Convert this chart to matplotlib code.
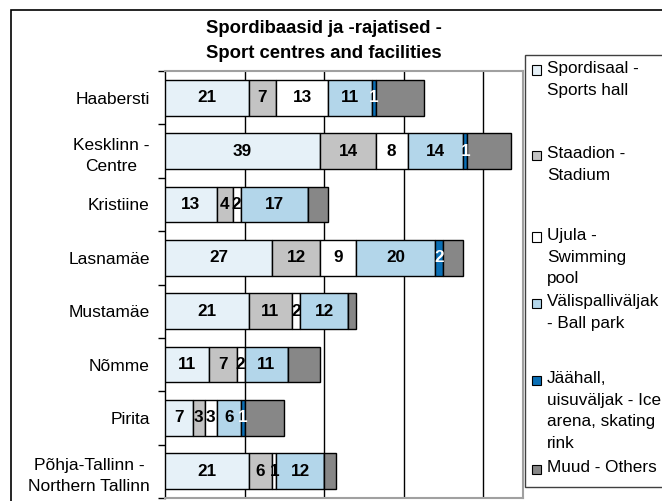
import matplotlib
matplotlib.use('Agg')
import matplotlib.pyplot as plt
from matplotlib.patches import Rectangle
import numpy as np

plt.rcParams['font.family'] = ['Liberation Sans', 'DejaVu Sans']

# data
districts = ['Haabersti', 'Kesklinn -\nCentre', 'Kristiine', 'Lasnamäe',
             'Mustamäe', 'Nõmme', 'Pirita', 'Põhja-Tallinn -\nNorthern Tallinn']
sports_hall = [21, 39, 13, 27, 21, 11, 7, 21]
stadium = [7, 14, 4, 12, 11, 7, 3, 6]
pool = [13, 8, 2, 9, 2, 2, 3, 1]
ball_park = [11, 14, 17, 20, 12, 11, 6, 12]
ice = [1, 1, 0, 2, 0, 0, 1, 0]
others = [12, 11, 5, 5, 2, 8, 10, 3]

legend_labels = ['Spordisaal -\nSports hall', 'Staadion -\nStadium',
                 'Ujula -\nSwimming\npool', 'Välispalliväljak\n- Ball park',
                 'Jäähall,\nuisuväljak - Ice\narena, skating\nrink',
                 'Muud - Others']
colors = ['#e6f1f8', '#c3c3c3', '#ffffff', '#b3d6ea', '#0a6fb5', '#878787']
title = 'Spordibaasid ja -rajatised -\nSport centres and facilities'

W, H = 662, 501
fig = plt.figure(figsize=(W/100., H/100.), dpi=100, facecolor='w')

def fx(px):
    return px/float(W)

def fy(py):
    return 1 - py/float(H)

# outer chart border (runs off the right and bottom edges)
fig.patches.append(Rectangle((fx(11), -0.1), 1.2, fy(10) + 0.1,
                             transform=fig.transFigure, fill=False,
                             edgecolor='k', linewidth=1.2, clip_on=False))

ax = fig.add_axes([fx(165), fy(498), fx(523) - fx(165), fy(71) - fy(498)])

series = [sports_hall, stadium, pool, ball_park, ice, others]
y = np.arange(len(districts))
left = np.zeros(len(districts))
for k, vals in enumerate(series):
    vals = np.array(vals, dtype=float)
    ax.barh(y, vals, left=left, height=0.67, color=colors[k],
            edgecolor='k', linewidth=1.0, zorder=3)
    if k < 5:
        for i, v in enumerate(vals):
            if v <= 0:
                continue
            tc = 'w' if k == 4 else 'k'
            ax.text(left[i] + v/2., y[i], '%d' % v, ha='center', va='center',
                    fontsize=12.3, fontweight='bold', color=tc, zorder=4)
    left += vals

ax.set_xlim(0, 90)
ax.set_ylim(len(districts) - 0.5, -0.5)
ax.set_xticks([20, 40, 60, 80])
ax.xaxis.grid(True, color='k', linewidth=1.0, zorder=0)
ax.tick_params(axis='x', length=0, labelbottom=False)

# labels at the centres, ticks at the category boundaries
ax.set_yticks(y)
ax.set_yticklabels(districts, fontsize=12.5, linespacing=1.55)
ax.set_yticks(np.arange(len(districts) + 1) - 0.5, minor=True)
ax.tick_params(axis='y', which='minor', length=5, width=1.0, color='k')
ax.tick_params(axis='y', which='major', length=0, pad=11)
for lab in ax.get_yticklabels():
    lab.set_horizontalalignment('right')
    lab.set_multialignment('center')

for s in ['top', 'right', 'bottom']:
    ax.spines[s].set_color('#a0a0a0')
    ax.spines[s].set_linewidth(1.5)
ax.spines['left'].set_color('k')
ax.spines['left'].set_linewidth(1.0)
ax.set_axisbelow(True)

fig.text(fx(324), fy(41), title, ha='center', va='center', fontsize=13.3,
         fontweight='bold', linespacing=1.55)

# legend drawn by hand so the entries can be spread like the original
fig.patches.append(Rectangle((fx(525), fy(487)), 0.5, fy(55) - fy(487),
                             transform=fig.transFigure, facecolor='w',
                             edgecolor='#404040', linewidth=1.0, clip_on=False,
                             zorder=5))
centers = [70, 155, 237, 303, 380, 469]
for k, lab in enumerate(legend_labels):
    c = centers[k]
    fig.patches.append(Rectangle((fx(532), fy(c + 4.5)), fx(9), fy(c - 4.5) - fy(c + 4.5),
                                 transform=fig.transFigure, facecolor=colors[k],
                                 edgecolor='k', linewidth=0.8, zorder=6))
    fig.text(fx(547), fy(c - 9), lab, ha='left', va='top', fontsize=12.3,
             linespacing=1.55, zorder=7)

fig.savefig('out.png', dpi=100, facecolor='w')
